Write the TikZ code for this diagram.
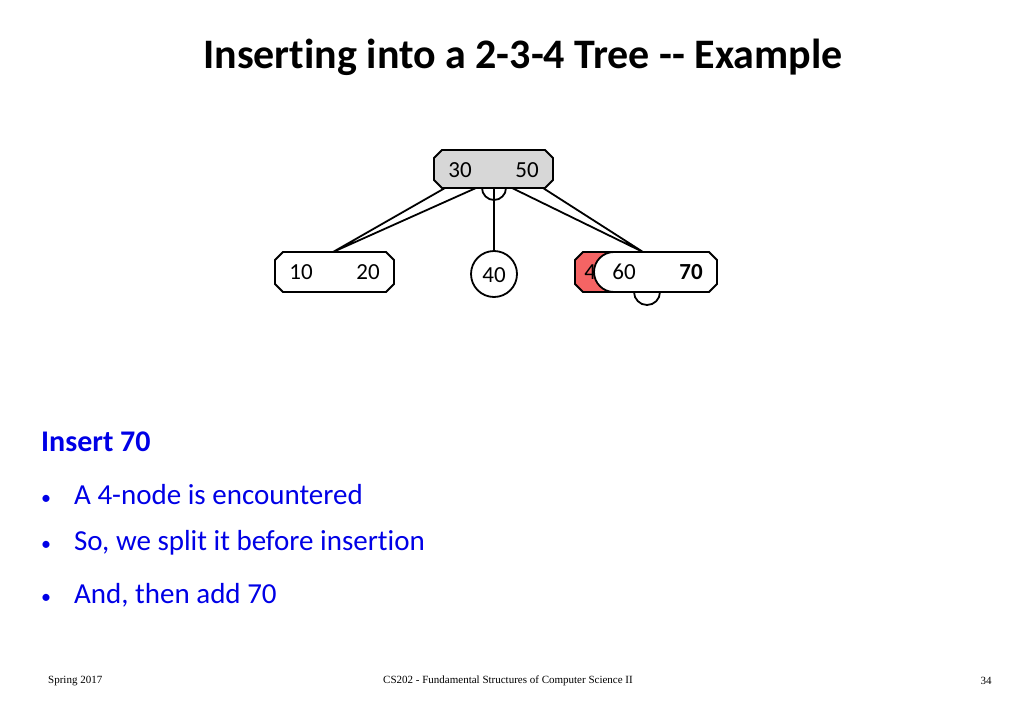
\documentclass[tikz,border=0pt]{standalone}
\usepackage{fontspec}
\setmainfont[Ligatures=NoCommon]{Carlito}
\newfontfamily\foot{Liberation Serif}
\definecolor{blu}{RGB}{0,0,230}
\definecolor{redn}{RGB}{245,100,100}
\definecolor{grayn}{RGB}{215,215,215}
\begin{document}
\begin{tikzpicture}[x=1pt,y=-1pt,
  lbl/.style={font=\fontsize{23}{27}\selectfont,inner sep=0pt},
  bul/.style={font=\fontsize{29}{34}\selectfont,text=blu,anchor=west,inner sep=0pt},
  ft/.style={font=\foot\fontsize{11}{13}\selectfont,inner sep=0pt},
  ln/.style={line width=1.8pt}]
\useasboundingbox (0,0) rectangle (1024,709);
\node[font=\bfseries\fontsize{42}{50}\selectfont,inner sep=0pt] (title) at (523,57) {Inserting into a 2-3-4 Tree -{}- Example};
% connectors (behind)
\coordinate (rl1) at (445,188); \coordinate (rl2) at (476,188);
\coordinate (rr1) at (512,188); \coordinate (rr2) at (543,188);
\coordinate (lc) at (333,252); \coordinate (rc) at (643,252);
\coordinate (rm) at (494,188); \coordinate (mc) at (494,251);
\draw[ln] (rl1)--(lc) (rl2)--(lc) (rr1)--(rc) (rr2)--(rc) (rm)--(mc);
\draw[ln] (482,188) arc[start angle=180,end angle=0,radius=12];
\draw[ln] (634,292) arc[start angle=180,end angle=0,radius=13];
% root
\draw[ln,fill=grayn] (442,150)--(545,150)--(553,158)--(553,180)--(545,188)--(442,188)--(434,180)--(434,158)--cycle;
\node[lbl] (r30) at (460,170) {30};
\node[lbl] (r50) at (527,170) {50};
% left
\draw[ln,fill=white] (283,252)--(386,252)--(394,260)--(394,284)--(386,292)--(283,292)--(275,284)--(275,260)--cycle;
\node[lbl] (l10) at (301,272) {10};
\node[lbl] (l20) at (368,272) {20};
% middle
\draw[ln,fill=white] (494,274) circle (23);
\node[lbl] (m40) at (494,275) {40};
% red
\draw[ln,fill=redn] (583,252)--(625,252)--(625,292)--(583,292)--(575,284)--(575,260)--cycle;
\node[lbl] (red40) at (596,272) {40};
% right
\draw[ln,fill=white] (614,252)--(709,252)--(717,260)--(717,284)--(709,292)--(614,292) arc[start angle=90,end angle=270,radius=20] -- cycle;
\node[lbl] (n60) at (624,272) {60};
\node[lbl,font=\bfseries\fontsize{23}{27}\selectfont] (n70) at (691,272) {70};
% text
\node[font=\bfseries\fontsize{30}{36}\selectfont,text=blu,anchor=west,inner sep=0pt] (ins) at (41,442) {Insert 70};
\node[bul] (b1) at (41,495) {{\fontsize{20}{24}\selectfont•}\hspace{23pt}A 4-node is encountered};
\node[bul] (b2) at (41,543) {{\fontsize{20}{24}\selectfont•}\hspace{23pt}So, we split it before insertion};
\node[bul] (b3) at (41,595) {{\fontsize{20}{24}\selectfont•}\hspace{23pt}And, then add 70};
\node[ft,anchor=west] (f1) at (48,681) {Spring 2017};
\node[ft] (f2) at (508,681) {CS202 - Fundamental Structures of Computer Science II};
\node[ft] (f3) at (986,681) {34};
\end{tikzpicture}
\end{document}
